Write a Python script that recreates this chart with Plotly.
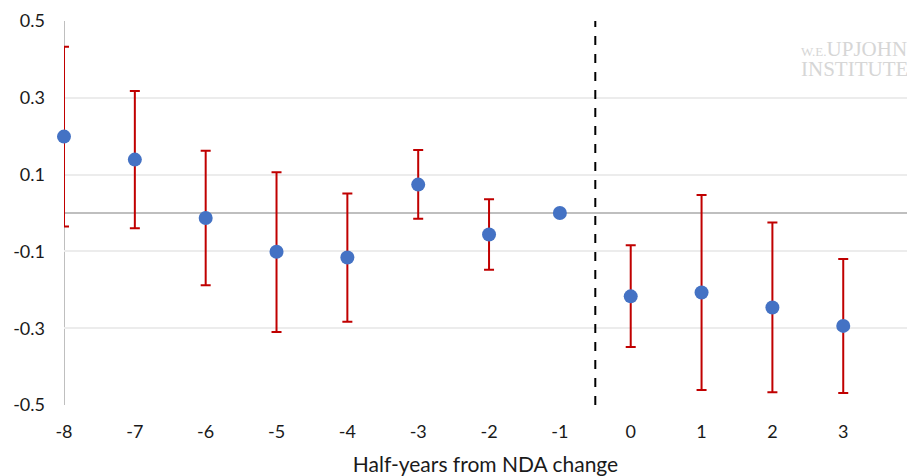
import plotly.graph_objects as go

periods = [-8, -7, -6, -5, -4, -3, -2, -1, 0, 1, 2, 3, 4]
estimate = [0.199, 0.139, -0.013, -0.101, -0.116, 0.074, -0.056, 0.0, -0.217, -0.207, -0.246, -0.294, -0.257]
ci_upper = [0.433, 0.318, 0.162, 0.106, 0.051, 0.164, 0.036, None, -0.084, 0.047, -0.025, -0.120, None]
ci_lower = [-0.035, -0.040, -0.188, -0.310, -0.283, -0.015, -0.148, None, -0.349, -0.461, -0.467, -0.469, None]
x_ticks = [-8, -7, -6, -5, -4, -3, -2, -1, 0, 1, 2, 3]
y_ticks = [-0.5, -0.3, -0.1, 0.1, 0.3, 0.5]

err_plus = [(u - e) if u is not None else 0 for u, e in zip(ci_upper, estimate)]
err_minus = [(e - l) if l is not None else 0 for l, e in zip(ci_lower, estimate)]
has_err = [u is not None for u in ci_upper]

ex = [p for p, h in zip(periods, has_err) if h]
ey = [e for e, h in zip(estimate, has_err) if h]
ep = [v for v, h in zip(err_plus, has_err) if h]
em = [v for v, h in zip(err_minus, has_err) if h]

fig = go.Figure()
fig.add_trace(go.Scatter(
    x=ex, y=ey, mode="markers",
    marker=dict(size=1, opacity=0),
    error_y=dict(type="data", symmetric=False, array=ep, arrayminus=em,
                 color="#c00000", thickness=2, width=5),
    cliponaxis=True, showlegend=False, hoverinfo="skip",
))
fig.add_trace(go.Scatter(
    x=periods, y=estimate, mode="markers",
    marker=dict(size=14, color="#4472c4"),
    cliponaxis=False, showlegend=False,
))

fig.add_shape(type="line", x0=-0.5, x1=-0.5, y0=-0.5, y1=0.5, xref="x", yref="y",
              line=dict(color="black", width=2, dash="dash"))

fig.add_annotation(text="<span style='font-size:13px'>W.E.</span>UPJOHN", xref="paper", yref="paper",
                   x=0.872, y=0.927, xanchor="left", yanchor="middle", showarrow=False,
                   font=dict(family="Liberation Serif", size=21, color="#d6d6d6"))
fig.add_annotation(text="INSTITUTE", xref="paper", yref="paper",
                   x=0.872, y=0.875, xanchor="left", yanchor="middle", showarrow=False,
                   font=dict(family="Liberation Serif", size=21, color="#d6d6d6"))

fig.update_layout(
    width=907, height=476,
    margin=dict(l=64, r=0, t=21, b=71, autoexpand=False),
    plot_bgcolor="white", paper_bgcolor="white",
    font=dict(family="Lato", size=18, color="#1a1a1a"),
    xaxis=dict(range=[-8, 3.9], tickvals=x_ticks, ticktext=[str(v) for v in x_ticks],
               showgrid=False, zeroline=False, showline=False, ticks="",
               ticklabelstandoff=14, automargin=False,
               title=dict(text="Half-years from NDA change", standoff=22, font=dict(size=21))),
    yaxis=dict(range=[-0.5, 0.5], tickvals=y_ticks, ticktext=["-0.5", "-0.3", "-0.1", "0.1", "0.3", "0.5"],
               showgrid=True, gridcolor="#ececec", gridwidth=2,
               zeroline=True, zerolinecolor="#bfbfbf", zerolinewidth=2,
               showline=False, ticks="", ticklabelstandoff=18, automargin=False),
)
fig.add_shape(type="line", x0=-8, x1=-8, y0=-0.5, y1=0.5, xref="x", yref="y",
              line=dict(color="#bfbfbf", width=2), layer="below")

fig.write_html("out.html", config={"displayModeBar": False},
               post_script="document.body.style.margin='0';document.body.style.overflow='hidden';")
